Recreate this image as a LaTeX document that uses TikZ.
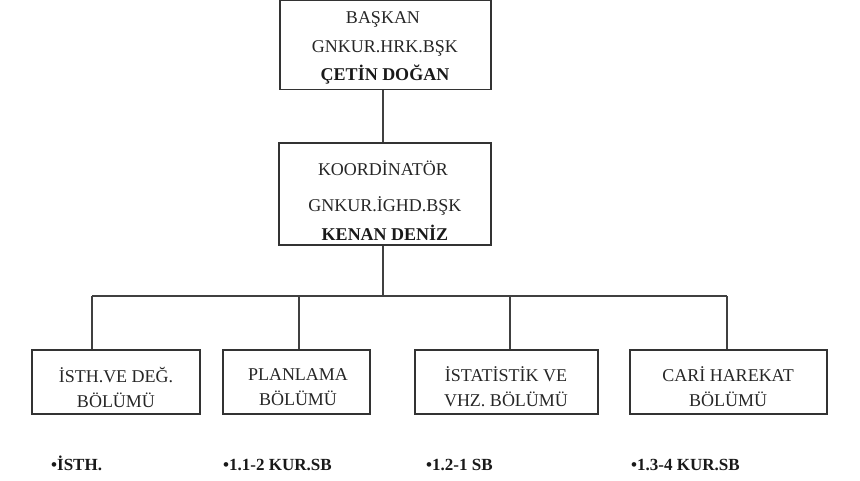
\documentclass[tikz,border=0pt]{standalone}
\usepackage{fontspec}
\setmainfont{Liberation Serif}
\begin{document}
\begin{tikzpicture}[x=1pt,y=-1pt,
  box/.style={draw=black!80,line width=1.6pt,inner sep=0pt},
  conn/.style={draw=black!75,line width=1.4pt},
  txt/.style={text=black!85,font=\fontsize{18}{22}\selectfont,inner sep=0pt},
  btxt/.style={text=black!90,font=\fontsize{18}{22}\selectfont\bfseries,inner sep=0pt},
  ltxt/.style={text=black!90,font=\fontsize{17}{20}\selectfont\bfseries,inner sep=1pt}]
\useasboundingbox (0,0) rectangle (860,480);
% top box
\node[box,minimum width=211pt,minimum height=89pt] (bas) at (385.5,45) {};
\node[txt] (bas1) at (383,19) {BAŞKAN};
\node[txt] (bas2) at (385,48) {GNKUR.HRK.BŞK};
\node[btxt] (bas3) at (385,75) {ÇETİN DOĞAN};
% middle box
\node[box,minimum width=212pt,minimum height=102pt] (koo) at (385,194) {};
\node[txt] (koo1) at (383,168) {KOORDİNATÖR};
\node[txt] (koo2) at (385,206) {GNKUR.İGHD.BŞK};
\node[btxt] (koo3) at (385,233) {KENAN DENİZ};
% bottom boxes
\node[box,minimum width=168pt,minimum height=64pt] (b1) at (116,382) {};
\node[box,minimum width=147pt,minimum height=64pt] (b2) at (296.5,382) {};
\node[box,minimum width=183pt,minimum height=64pt] (b3) at (506.5,382) {};
\node[box,minimum width=197pt,minimum height=64pt] (b4) at (728.5,382) {};
\node[txt,align=center] (t1) at (116,387) {İSTH.VE DEĞ.\\[3pt]BÖLÜMÜ};
\node[txt,align=center] (t2) at (298,387) {PLANLAMA\\[3pt]BÖLÜMÜ};
\node[txt,align=center] (t3) at (506,387) {İSTATİSTİK VE\\[3pt]VHZ. BÖLÜMÜ};
\node[txt,align=center] (t4) at (728,387) {CARİ HAREKAT\\[3pt]BÖLÜMÜ};
% connectors
\coordinate (bus) at (383,296);
\coordinate (j1) at (92,296);
\coordinate (j2) at (299,296);
\coordinate (j3) at (510,296);
\coordinate (j4) at (727,296);
\draw[conn] (bas.south -| bus) -- (koo.north -| bus);
\draw[conn] (koo.south -| bus) -- (bus);
\draw[conn] (j1) -- (j4);
\draw[conn] (j1) -- (j1 |- b1.north);
\draw[conn] (j2) -- (j2 |- b2.north);
\draw[conn] (j3) -- (j3 |- b3.north);
\draw[conn] (j4) -- (j4 |- b4.north);
% bottom labels
\node[ltxt,anchor=south west] (l1) at (50,472) {•İSTH.};
\node[ltxt,anchor=south west] (l2) at (222,472) {•1.1-2 KUR.SB};
\node[ltxt,anchor=south west] (l3) at (425,472) {•1.2-1 SB};
\node[ltxt,anchor=south west] (l4) at (630,472) {•1.3-4 KUR.SB};
\end{tikzpicture}
\end{document}
